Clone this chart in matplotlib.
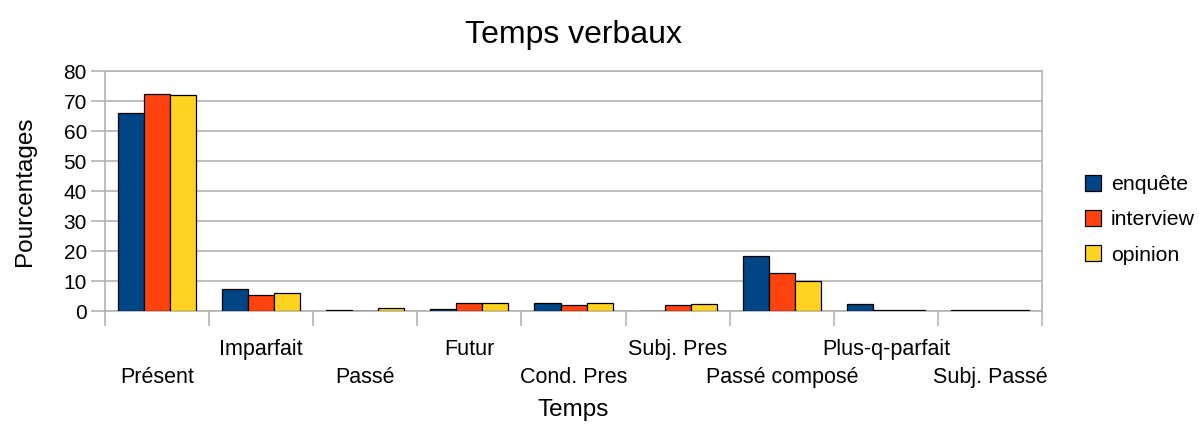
import matplotlib
matplotlib.use("Agg")
import matplotlib.pyplot as plt
import numpy as np

plt.rcParams['font.family'] = ['Liberation Sans', 'DejaVu Sans']

categories = ["Présent", "Imparfait", "Passé", "Futur", "Cond. Pres",
              "Subj. Pres", "Passé composé", "Plus-q-parfait", "Subj. Passé"]
enquete = [66.0, 7.3, 0.3, 0.6, 2.7, 0.0, 18.2, 2.5, 0.5]
interview = [72.4, 5.3, 0.0, 2.6, 2.1, 2.1, 12.6, 0.5, 0.2]
opinion = [72.0, 5.9, 1.0, 2.7, 2.7, 2.4, 10.1, 0.5, 0.2]
series_names = ["enquête", "interview", "opinion"]
colors = ["#004586", "#ff420e", "#ffd320"]

fig = plt.figure(figsize=(11.99, 4.24), dpi=100)
ax = fig.add_axes([0.0876, 0.2665, 0.7815, 0.566])

n = len(categories)
x = np.arange(n)
w = 0.25
for i, (vals, name, c) in enumerate(zip([enquete, interview, opinion], series_names, colors)):
    ax.bar(x + (i - 1) * w, vals, width=w, color=c, edgecolor="black",
           linewidth=0.9, label=name, zorder=3)

ax.set_xlim(-0.5, n - 0.5)
ax.set_ylim(0, 80)
ax.set_yticks(np.arange(0, 81, 10))
ax.yaxis.grid(True, color="#b3b3b3", linewidth=1.2, zorder=0)
ax.set_axisbelow(True)
for s in ax.spines.values():
    s.set_color("#b3b3b3")
    s.set_linewidth(1.2)
ax.tick_params(axis="y", length=10, color="#b3b3b3", width=1.2, labelsize=15, pad=3)

# category boundary ticks
ax.set_xticks(np.arange(-0.5, n, 1.0))
ax.set_xticklabels([])
ax.tick_params(axis="x", which="major", length=11, color="#b3b3b3", width=1.2)
ax.set_xticks(x, minor=True)
ax.set_xticklabels(categories, minor=True)
ax.tick_params(axis="x", which="minor", length=0, labelsize=15.5)
for i, lab in enumerate(ax.get_xticklabels(minor=True)):
    lab.set_y(-0.258 if i % 2 == 0 else -0.142)
    lab.set_va("center")

ax.set_title("Temps verbaux", fontsize=23, pad=20)
ax.set_ylabel("Pourcentages", fontsize=17.5)
ax.yaxis.set_label_coords(-0.074, 0.5)
ax.set_xlabel("Temps", fontsize=17.5)
ax.xaxis.set_label_coords(0.5, -0.4125)
ax.xaxis.label.set_va("center")

leg = ax.legend(loc="center left", bbox_to_anchor=(1.037, 0.38), frameon=False,
                fontsize=15.3, handlelength=0.75, handleheight=0.75,
                handletextpad=0.45, labelspacing=0.75, borderaxespad=0)

fig.savefig("out.png", dpi=100)
